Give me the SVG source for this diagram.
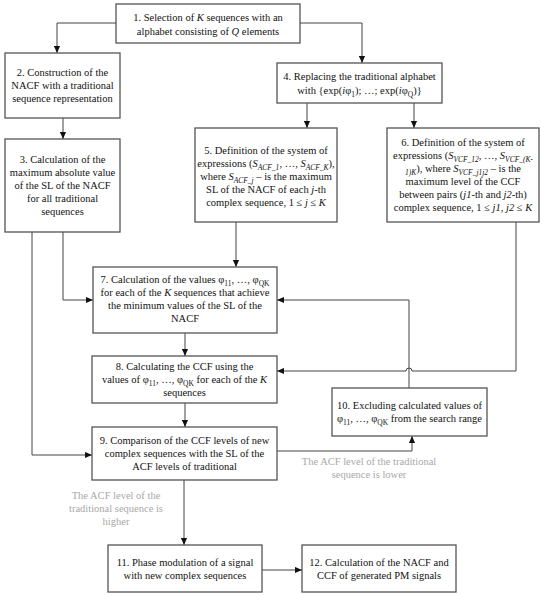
<svg xmlns="http://www.w3.org/2000/svg" width="550" height="595" viewBox="0 0 550 595" font-family="'Liberation Serif', 'DejaVu Serif', serif">
<defs>
<style>
.box{fill:#fff;stroke:#555;stroke-width:1.3}
text{font-size:10.5px;fill:#111;text-anchor:middle}
.lbl{fill:#a8a8a8}
.i{font-style:italic}
.sb{font-size:7.5px}
.cn{fill:none;stroke:#444;stroke-width:1}
</style>
<marker id="ah" viewBox="0 0 8 8" refX="8" refY="4" markerWidth="7" markerHeight="7" orient="auto" markerUnits="userSpaceOnUse">
<path d="M0,0.5 L8,4 L0,7.5 Z" fill="#111"/>
</marker>
</defs>
<rect width="550" height="595" fill="#fff"/>

<g id="connectors">
<path class="cn" d="M116,23 H57 V53" marker-end="url(#ah)"/>
<path class="cn" d="M300,23 H362 V63" marker-end="url(#ah)"/>
<path class="cn" d="M63,118 V139" marker-end="url(#ah)"/>
<path class="cn" d="M63,232 V300 H93" marker-end="url(#ah)"/>
<path class="cn" d="M32,232 V455 H92" marker-end="url(#ah)"/>
<path class="cn" d="M307,103 V128" marker-end="url(#ah)"/>
<path class="cn" d="M414,103 V128" marker-end="url(#ah)"/>
<path class="cn" d="M236,222 V267" marker-end="url(#ah)"/>
<path class="cn" d="M516,222 V371 H412 A3,3 0 0 0 406,371 H277" marker-end="url(#ah)"/>
<path class="cn" d="M409,388 V300 H277" marker-end="url(#ah)"/>
<path class="cn" d="M185,333 V356" marker-end="url(#ah)"/>
<path class="cn" d="M185,403 V427" marker-end="url(#ah)"/>
<path class="cn" d="M277,451 H412 V436" marker-end="url(#ah)"/>
<path class="cn" d="M184,480 V545" marker-end="url(#ah)"/>
<path class="cn" d="M262,570 H302" marker-end="url(#ah)"/>
<text class="lbl" x="116" y="499">The ACF level of the</text>
<text class="lbl" x="116" y="512">traditional sequence is</text>
<text class="lbl" x="116" y="525">higher</text>
<text class="lbl" x="369" y="465">The ACF level of the traditional</text>
<text class="lbl" x="369" y="478">sequence is lower</text>
</g>

<g id="n1">
<rect class="box" x="116" y="4" width="184" height="39"/>
<text x="208" y="21">1. Selection of <tspan class="i">K</tspan> sequences with an</text>
<text x="208" y="35">alphabet consisting of <tspan class="i">Q</tspan> elements</text>
</g>

<g id="n2">
<rect class="box" x="5" y="53" width="115" height="65"/>
<text x="62.5" y="76">2. Construction of the</text>
<text x="62.5" y="89">NACF with a traditional</text>
<text x="62.5" y="102">sequence representation</text>
</g>

<g id="n3">
<rect class="box" x="5" y="139" width="115" height="93"/>
<text x="62.5" y="163">3. Calculation of the</text>
<text x="62.5" y="176">maximum absolute value</text>
<text x="62.5" y="189">of the SL of the NACF</text>
<text x="62.5" y="202">for all traditional</text>
<text x="62.5" y="215">sequences</text>
</g>

<g id="n4">
<rect class="box" x="277" y="63" width="165" height="40"/>
<text x="359.5" y="80">4. Replacing the traditional alphabet</text>
<text x="359.5" y="94">with {exp(<tspan class="i">i</tspan>φ<tspan class="sb" dy="2.5">1</tspan><tspan dy="-2.5">); …; exp(</tspan><tspan class="i">i</tspan>φ<tspan class="sb" dy="2.5">Q</tspan><tspan dy="-2.5">)}</tspan></text>
</g>

<g id="n5">
<rect class="box" x="195" y="128" width="142" height="94"/>
<text x="266" y="154">5. Definition of the system of</text>
<text x="266" y="167">expressions (<tspan class="i">S</tspan><tspan class="sb i" dy="2.5">ACF_1</tspan><tspan dy="-2.5">, …, </tspan><tspan class="i">S</tspan><tspan class="sb i" dy="2.5">ACF_K</tspan><tspan dy="-2.5">),</tspan></text>
<text x="266" y="180">where <tspan class="i">S</tspan><tspan class="sb i" dy="2.5">ACF_j</tspan><tspan dy="-2.5"> – is the maximum</tspan></text>
<text x="266" y="193">SL of the NACF of each <tspan class="i">j</tspan>-th</text>
<text x="266" y="206">complex sequence, 1 ≤ <tspan class="i">j</tspan> ≤ <tspan class="i">K</tspan></text>
</g>

<g id="n6">
<rect class="box" x="387" y="128" width="152" height="94"/>
<text x="463" y="146">6. Definition of the system of</text>
<text x="463" y="159">expressions (<tspan class="i">S</tspan><tspan class="sb i" dy="2.5">VCF_12</tspan><tspan dy="-2.5">, …, </tspan><tspan class="i">S</tspan><tspan class="sb i" dy="2.5">VCF_(K-</tspan></text>
<text x="463" y="172"><tspan class="sb i" dy="2.5">1)K</tspan><tspan dy="-2.5">), where </tspan><tspan class="i">S</tspan><tspan class="sb i" dy="2.5">VCF_j1j2</tspan><tspan dy="-2.5"> – is the</tspan></text>
<text x="463" y="185">maximum level of the CCF</text>
<text x="463" y="198">between pairs (<tspan class="i">j1</tspan>-th and  <tspan class="i">j2</tspan>-th)</text>
<text x="463" y="211">complex sequence, 1 ≤ <tspan class="i">j1</tspan>, <tspan class="i">j2</tspan> ≤ <tspan class="i">K</tspan></text>
</g>

<g id="n7">
<rect class="box" x="93" y="267" width="184" height="66"/>
<text x="185" y="283">7. Calculation of the values φ<tspan class="sb" dy="2.5">11</tspan><tspan dy="-2.5">, …, φ</tspan><tspan class="sb" dy="2.5">QK</tspan></text>
<text x="185" y="296">for each of the <tspan class="i">K</tspan> sequences that achieve</text>
<text x="185" y="309">the minimum values of the SL of the</text>
<text x="185" y="322">NACF</text>
</g>

<g id="n8">
<rect class="box" x="92" y="356" width="185" height="47"/>
<text x="184.5" y="370">8. Calculating the CCF using the</text>
<text x="184.5" y="383">values of φ<tspan class="sb" dy="2.5">11</tspan><tspan dy="-2.5">, …, φ</tspan><tspan class="sb" dy="2.5">QK</tspan><tspan dy="-2.5"> for each of the </tspan><tspan class="i">K</tspan></text>
<text x="184.5" y="396">sequences</text>
</g>

<g id="n9">
<rect class="box" x="92" y="427" width="185" height="53"/>
<text x="184.5" y="444">9. Comparison of the CCF levels of new</text>
<text x="184.5" y="457">complex sequences with the SL of the</text>
<text x="184.5" y="470">ACF levels of traditional</text>
</g>

<g id="n10">
<rect class="box" x="332" y="388" width="155" height="48"/>
<text x="409.5" y="409">10. Excluding calculated values of</text>
<text x="409.5" y="422">φ<tspan class="sb" dy="2.5">11</tspan><tspan dy="-2.5">, …, φ</tspan><tspan class="sb" dy="2.5">QK</tspan><tspan dy="-2.5"> from the search range</tspan></text>
</g>

<g id="n11">
<rect class="box" x="108" y="545" width="154" height="47"/>
<text x="185" y="566">11. Phase modulation of a signal</text>
<text x="185" y="579">with new complex sequences</text>
</g>

<g id="n12">
<rect class="box" x="302" y="545" width="154" height="47"/>
<text x="379" y="566">12. Calculation of the NACF and</text>
<text x="379" y="579">CCF of generated PM signals</text>
</g>
</svg>
